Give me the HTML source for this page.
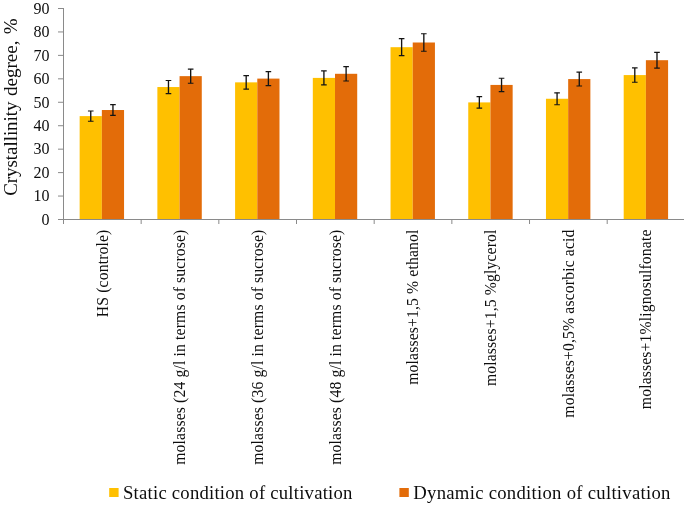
<!DOCTYPE html>
<html><head><meta charset="utf-8"><title>Crystallinity degree</title>
<style>html,body{margin:0;padding:0;background:#fff}svg{display:block;will-change:transform}text{font-family:"Liberation Serif",serif;fill:#0d0d0d}</style></head><body>
<svg width="685" height="506" viewBox="0 0 685 506">
<rect width="685" height="506" fill="#fff"/>
<rect x="79.65" y="116.11" width="22.20" height="103.39" fill="#FFC000"/>
<rect x="101.85" y="110.02" width="22.20" height="109.48" fill="#E36C09"/>
<rect x="157.37" y="87.04" width="22.20" height="132.46" fill="#FFC000"/>
<rect x="179.57" y="76.14" width="22.20" height="143.36" fill="#E36C09"/>
<rect x="235.09" y="82.35" width="22.20" height="137.15" fill="#FFC000"/>
<rect x="257.29" y="78.60" width="22.20" height="140.90" fill="#E36C09"/>
<rect x="312.81" y="77.90" width="22.20" height="141.60" fill="#FFC000"/>
<rect x="335.01" y="73.80" width="22.20" height="145.70" fill="#E36C09"/>
<rect x="390.53" y="47.19" width="22.20" height="172.31" fill="#FFC000"/>
<rect x="412.73" y="42.50" width="22.20" height="177.00" fill="#E36C09"/>
<rect x="468.25" y="102.40" width="22.20" height="117.10" fill="#FFC000"/>
<rect x="490.45" y="84.93" width="22.20" height="134.57" fill="#E36C09"/>
<rect x="545.97" y="98.76" width="22.20" height="120.74" fill="#FFC000"/>
<rect x="568.17" y="79.07" width="22.20" height="140.43" fill="#E36C09"/>
<rect x="623.69" y="75.08" width="22.20" height="144.42" fill="#FFC000"/>
<rect x="645.89" y="60.20" width="22.20" height="159.30" fill="#E36C09"/>
<g stroke="#8a8a8a" stroke-width="1" fill="none">
<path d="M63.5 8.00V220.0"/>
<path d="M63.0 219.5H684"/>
<path d="M58.0 219.50H63.5"/>
<path d="M58.0 196.06H63.5"/>
<path d="M58.0 172.61H63.5"/>
<path d="M58.0 149.17H63.5"/>
<path d="M58.0 125.72H63.5"/>
<path d="M58.0 102.28H63.5"/>
<path d="M58.0 78.84H63.5"/>
<path d="M58.0 55.39H63.5"/>
<path d="M58.0 31.95H63.5"/>
<path d="M58.0 8.50H63.5"/>
<path d="M63.50 219.5V224.0"/>
<path d="M141.17 219.5V224.0"/>
<path d="M218.84 219.5V224.0"/>
<path d="M296.51 219.5V224.0"/>
<path d="M374.18 219.5V224.0"/>
<path d="M451.85 219.5V224.0"/>
<path d="M529.52 219.5V224.0"/>
<path d="M607.19 219.5V224.0"/>
</g>
<g stroke="#141414" stroke-width="1.2" fill="none">
<path stroke-width="1.35" d="M90.75 110.99V121.23"/><path d="M87.95 110.99h5.6M87.95 121.23h5.6"/>
<path stroke-width="1.35" d="M112.95 104.60V115.44"/><path d="M110.15 104.60h5.6M110.15 115.44h5.6"/>
<path stroke-width="1.35" d="M168.47 80.48V93.60"/><path d="M165.67 80.48h5.6M165.67 93.60h5.6"/>
<path stroke-width="1.35" d="M190.67 69.04V83.24"/><path d="M187.87 69.04h5.6M187.87 83.24h5.6"/>
<path stroke-width="1.35" d="M246.19 75.56V89.14"/><path d="M243.39 75.56h5.6M243.39 89.14h5.6"/>
<path stroke-width="1.35" d="M268.39 71.63V85.58"/><path d="M265.59 71.63h5.6M265.59 85.58h5.6"/>
<path stroke-width="1.35" d="M323.91 70.89V84.91"/><path d="M321.11 70.89h5.6M321.11 84.91h5.6"/>
<path stroke-width="1.35" d="M346.11 66.58V81.01"/><path d="M343.31 66.58h5.6M343.31 81.01h5.6"/>
<path stroke-width="1.35" d="M401.63 38.66V55.72"/><path d="M398.83 38.66h5.6M398.83 55.72h5.6"/>
<path stroke-width="1.35" d="M423.83 33.74V51.26"/><path d="M421.03 33.74h5.6M421.03 51.26h5.6"/>
<path stroke-width="1.35" d="M479.35 96.60V108.19"/><path d="M476.55 96.60h5.6M476.55 108.19h5.6"/>
<path stroke-width="1.35" d="M501.55 78.27V91.59"/><path d="M498.75 78.27h5.6M498.75 91.59h5.6"/>
<path stroke-width="1.35" d="M557.07 92.79V104.74"/><path d="M554.27 92.79h5.6M554.27 104.74h5.6"/>
<path stroke-width="1.35" d="M579.27 72.12V86.02"/><path d="M576.47 72.12h5.6M576.47 86.02h5.6"/>
<path stroke-width="1.35" d="M634.79 67.94V82.23"/><path d="M631.99 67.94h5.6M631.99 82.23h5.6"/>
<path stroke-width="1.35" d="M656.99 52.31V68.08"/><path d="M654.19 52.31h5.6M654.19 68.08h5.6"/>
</g>
<text x="49.5" y="224.80" font-size="16" text-anchor="end">0</text>
<text x="49.5" y="201.36" font-size="16" text-anchor="end">10</text>
<text x="49.5" y="177.91" font-size="16" text-anchor="end">20</text>
<text x="49.5" y="154.47" font-size="16" text-anchor="end">30</text>
<text x="49.5" y="131.02" font-size="16" text-anchor="end">40</text>
<text x="49.5" y="107.58" font-size="16" text-anchor="end">50</text>
<text x="49.5" y="84.14" font-size="16" text-anchor="end">60</text>
<text x="49.5" y="60.69" font-size="16" text-anchor="end">70</text>
<text x="49.5" y="37.25" font-size="16" text-anchor="end">80</text>
<text x="49.5" y="13.80" font-size="16" text-anchor="end">90</text>
<g font-size="19">
<text transform="translate(16.5 195.8) rotate(-90)" letter-spacing="-0.06">Crystallinity</text>
<text transform="translate(16.5 96) rotate(-90)">degree,</text>
<text transform="translate(16.5 34.2) rotate(-90)">%</text>
</g>
<text transform="translate(107.64 229.5) rotate(-90)" font-size="15.7" letter-spacing="0.14" text-anchor="end">HS (controle)</text>
<text transform="translate(185.31 229.5) rotate(-90)" font-size="15.7" letter-spacing="0.14" text-anchor="end">molasses (24 g/l in terms of sucrose)</text>
<text transform="translate(262.98 229.5) rotate(-90)" font-size="15.7" letter-spacing="0.14" text-anchor="end">molasses (36 g/l in terms of sucrose)</text>
<text transform="translate(340.65 229.5) rotate(-90)" font-size="15.7" letter-spacing="0.14" text-anchor="end">molasses (48 g/l in terms of sucrose)</text>
<text transform="translate(418.31 229.5) rotate(-90)" font-size="15.7" letter-spacing="0.14" text-anchor="end">molasses+1,5 % ethanol</text>
<text transform="translate(495.99 229.5) rotate(-90)" font-size="15.7" letter-spacing="0.14" text-anchor="end">molasses+1,5 %glycerol</text>
<text transform="translate(573.65 229.5) rotate(-90)" font-size="15.7" letter-spacing="0.14" text-anchor="end">molasses+0,5% ascorbic acid</text>
<text transform="translate(651.32 229.5) rotate(-90)" font-size="15.7" letter-spacing="0.14" text-anchor="end">molasses+1%lignosulfonate</text>
<rect x="109.2" y="488" width="9.4" height="9" fill="#FFC000"/>
<text x="123" y="498.7" font-size="18.7" letter-spacing="0.225">Static condition of cultivation</text>
<rect x="399.4" y="488" width="9.4" height="9" fill="#E36C09"/>
<text x="413.3" y="498.7" font-size="18.7" letter-spacing="0.275">Dynamic condition of cultivation</text>
</svg></body></html>
